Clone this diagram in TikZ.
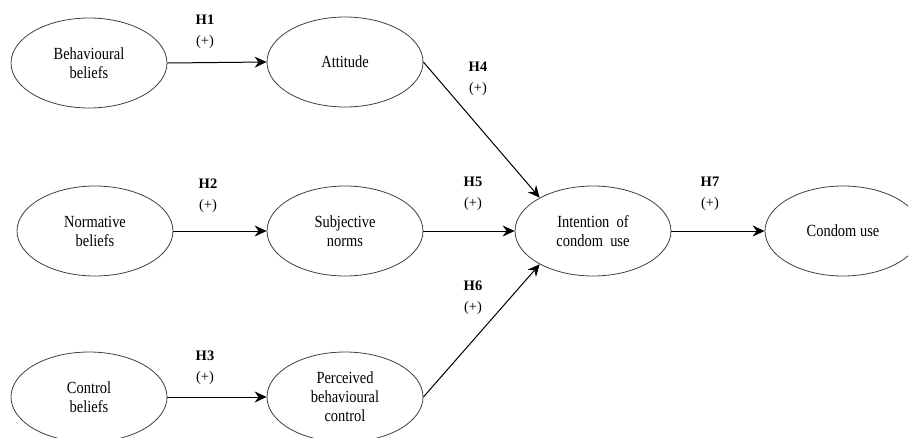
\documentclass[tikz,border=0pt]{standalone}
\usepackage{fontspec}
\setmainfont{Liberation Serif}
\newfontfamily\narrowserif[FakeStretch=0.85]{Liberation Serif}
\usetikzlibrary{shapes.geometric,arrows.meta}
\begin{document}
\begin{tikzpicture}[x=1pt,y=-1pt,
  construct/.style={ellipse,draw=black!75,line width=0.8pt,minimum width=156pt,minimum height=90pt,inner sep=0pt,align=center,font=\narrowserif\fontsize{17}{19}\selectfont},
  path/.style={draw=black,line width=1pt,-{Stealth[length=12pt,width=11pt,inset=4pt]}},
  hyp/.style={align=center,inner sep=0pt,font=\fontsize{14.5}{21}\selectfont}]
\useasboundingbox (0,0) rectangle (908,437);
\clip (0,0) rectangle (908,437);
\fill[white] (0,0) rectangle (908,437);
\node[construct] (BB) at (89,63) {Behavioural\\beliefs};
\node[construct] (AT) at (345,62) {Attitude};
\node[construct] (NB) at (95,231) {Normative\\beliefs};
\node[construct] (SN) at (345,231) {Subjective\\norms};
\node[construct] (CB) at (89,397) {Control\\beliefs};
\node[construct] (PBC) at (345,397) {Perceived\\behavioural\\control};
\node[construct] (IN) at (593,231) {Intention\ \ of\\condom\ \ use};
\node[construct] (CU) at (843,231) {Condom use};
\draw[path] (BB.east) -- (AT.west);
\draw[path] (NB.east) -- (SN.west);
\draw[path] (CB.east) -- (PBC.west);
\draw[path] (AT.east) -- (IN.148);
\draw[path] (SN.east) -- (IN.west);
\draw[path] (PBC.east) -- (IN.212);
\draw[path] (IN.east) -- (CU.west);
\node[hyp] (l1) at (205,32) {\textbf{H1}\\(+)};
\node[hyp] (l2) at (208,196) {\textbf{H2}\\(+)};
\node[hyp] (l3) at (205,368) {\textbf{H3}\\(+)};
\node[hyp] (l4) at (478,79) {\textbf{H4}\\(+)};
\node[hyp] (l5) at (473,194) {\textbf{H5}\\(+)};
\node[hyp] (l6) at (473,298) {\textbf{H6}\\(+)};
\node[hyp] (l7) at (710,194) {\textbf{H7}\\(+)};
\end{tikzpicture}
\end{document}
